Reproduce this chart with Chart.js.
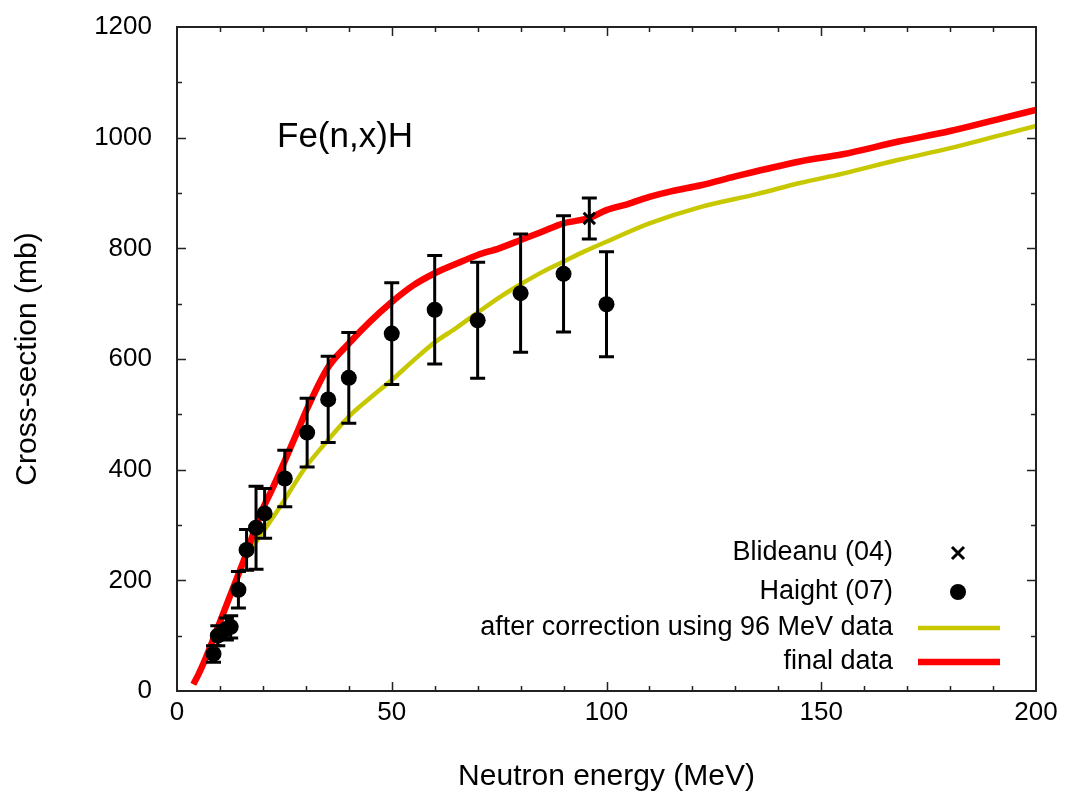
<!DOCTYPE html>
<html>
<head>
<meta charset="utf-8">
<title>Fe(n,x)H</title>
<script src="https://cdn.jsdelivr.net/npm/chart.js@4.4.1/dist/chart.umd.min.js"></script>
<style>
  html, body { margin:0; padding:0; background:#fff; }
  #wrap { width:1067px; height:799px; position:relative; }
</style>
</head>
<body>
<div id="wrap"><canvas id="xsChart" width="1067" height="799"></canvas></div>
<script>
// final evaluation (red)
const finalE  = [3.8, 5, 6.5, 8, 10, 12, 14, 16, 18, 20, 22, 25, 28, 30, 35, 40, 45, 50, 55, 60, 65, 70, 75, 80, 85, 90, 96, 100, 105, 110, 115, 122, 130, 145, 155, 168, 180, 192, 200];
const finalXS = [12, 30, 56, 85, 125, 165, 205, 245, 290, 330, 362, 414, 468, 505, 583, 628, 668, 703, 733, 755, 772, 788, 800, 815, 830, 845, 855, 869, 880, 893, 903, 914, 930, 957, 970, 993, 1012, 1035, 1050];

// after correction using 96 MeV data (yellow)
const corrE  = [3.8, 5, 6.5, 8, 10, 12, 14, 16, 18, 20, 22, 25, 28, 30, 35, 40, 45, 50, 55, 60, 65, 70, 75, 80, 85, 90, 95, 100, 110, 122, 135, 145, 155, 168, 180, 192, 200];
const corrXS = [12, 30, 56, 85, 125, 165, 205, 240, 265, 288, 310, 345, 382, 405, 452, 496, 530, 562, 597, 630, 656, 684, 711, 735, 757, 776, 795, 812, 845, 875, 898, 918, 935, 960, 981, 1005, 1021];

// Haight (07)
const haightE   = [8.5, 9.5, 11.5, 12.5, 14.3, 16.2, 18.4, 20.4, 25.1, 30.3, 35.2, 40, 50, 60, 70, 80, 90, 100];
const haightXS  = [67, 100, 112, 116, 183, 255, 295, 321, 384, 467, 527, 566, 646, 689, 670, 719, 754, 699];
const haightErr = [15, 18, 20, 20, 33, 37, 75, 45, 51, 62, 78, 82, 92, 98, 105, 107, 105, 95];

// Blideanu (04)
const blidE   = [96];
const blidXS  = [854];
const blidErr = [37];

const xTickVals = [0, 50, 100, 150, 200];
const yTickVals = [0, 200, 400, 600, 800, 1000, 1200];

const FONT = "'Liberation Sans', Arial, Helvetica, sans-serif";

const toPts = (xs, ys) => xs.map((x, i) => ({x: x, y: ys[i]}));

// vertical error bars with caps
const errorBars = {
  id: 'errorBars',
  afterDatasetsDraw(chart) {
    const {ctx, scales: {x, y}} = chart;
    ctx.save();
    ctx.strokeStyle = '#000';
    ctx.lineWidth = 3;
    chart.data.datasets.forEach(ds => {
      if (!ds.errors) return;
      ds.data.forEach((p, i) => {
        const px = x.getPixelForValue(p.x);
        const y1 = y.getPixelForValue(p.y - ds.errors[i]);
        const y2 = y.getPixelForValue(p.y + ds.errors[i]);
        ctx.beginPath();
        ctx.moveTo(px, y1); ctx.lineTo(px, y2);
        ctx.moveTo(px - 7.5, y1); ctx.lineTo(px + 7.5, y1);
        ctx.moveTo(px - 7.5, y2); ctx.lineTo(px + 7.5, y2);
        ctx.stroke();
      });
    });
    ctx.restore();
  }
};

// box frame with inward major/minor ticks on all sides
const frame = {
  id: 'frame',
  afterDraw(chart) {
    const {ctx, chartArea: a, scales: {x, y}} = chart;
    ctx.save();
    ctx.strokeStyle = '#222';
    ctx.lineWidth = 2;
    ctx.strokeRect(a.left, a.top, a.right - a.left, a.bottom - a.top);
    ctx.lineWidth = 1.5;
    ctx.beginPath();
    for (let v = 10; v < 200; v += 10) {
      const px = Math.round(x.getPixelForValue(v)) + 0.5;
      const len = v % 50 === 0 ? 9 : 5;
      ctx.moveTo(px, a.bottom); ctx.lineTo(px, a.bottom - len);
      ctx.moveTo(px, a.top); ctx.lineTo(px, a.top + len);
    }
    for (let v = 100; v < 1200; v += 100) {
      const py = Math.round(y.getPixelForValue(v)) + 0.5;
      const len = v % 200 === 0 ? 9 : 5;
      ctx.moveTo(a.left, py); ctx.lineTo(a.left + len, py);
      ctx.moveTo(a.right, py); ctx.lineTo(a.right - len, py);
    }
    ctx.stroke();

    // reaction label
    ctx.fillStyle = '#000';
    ctx.font = '35px ' + FONT;
    ctx.textBaseline = 'middle';
    ctx.textAlign = 'left';
    ctx.fillText('Fe(n,x)H', a.left + 100, y.getPixelForValue(1000));
    ctx.restore();
  }
};

// key in the lower right corner: text right-aligned, sample to its right
const key = {
  id: 'key',
  afterDraw(chart) {
    const {ctx, chartArea: a} = chart;
    const tx = a.right - 143, sx0 = a.right - 118, sx1 = a.right - 36, mx = a.right - 78;
    const rows = [
      {label: 'Blideanu (04)', y: 553, kind: 'cross'},
      {label: 'Haight (07)', y: 592, kind: 'dot'},
      {label: 'after correction using 96 MeV data', y: 628, kind: 'line', color: '#c8c800', w: 4.5},
      {label: 'final data', y: 662, kind: 'line', color: '#ff0000', w: 6.5}
    ];
    ctx.save();
    ctx.font = '27px ' + FONT;
    ctx.fillStyle = '#000';
    ctx.textAlign = 'right';
    ctx.textBaseline = 'middle';
    rows.forEach(r => {
      ctx.fillText(r.label, tx, r.y);
      if (r.kind === 'line') {
        ctx.strokeStyle = r.color; ctx.lineWidth = r.w;
        ctx.beginPath(); ctx.moveTo(sx0, r.y); ctx.lineTo(sx1, r.y); ctx.stroke();
      } else if (r.kind === 'cross') {
        ctx.strokeStyle = '#000'; ctx.lineWidth = 3;
        ctx.beginPath();
        ctx.moveTo(mx - 6, r.y - 6); ctx.lineTo(mx + 6, r.y + 6);
        ctx.moveTo(mx + 6, r.y - 6); ctx.lineTo(mx - 6, r.y + 6);
        ctx.stroke();
      } else {
        ctx.beginPath(); ctx.arc(mx, r.y, 8, 0, Math.PI * 2); ctx.fill();
      }
    });
    ctx.restore();
  }
};

new Chart(document.getElementById('xsChart'), {
  type: 'scatter',
  data: {
    datasets: [
      {
        label: 'Blideanu (04)', data: toPts(blidE, blidXS), errors: blidErr,
        pointStyle: 'crossRot', pointRadius: 8, borderColor: '#000', borderWidth: 3, showLine: false
      },
      {
        label: 'Haight (07)', data: toPts(haightE, haightXS), errors: haightErr,
        pointStyle: 'circle', pointRadius: 8, backgroundColor: '#000', borderColor: '#000', borderWidth: 0, showLine: false
      },
      {
        label: 'final data', data: toPts(finalE, finalXS),
        showLine: true, borderColor: '#ff0000', borderWidth: 6.5, pointRadius: 0,
        cubicInterpolationMode: 'monotone', fill: false
      },
      {
        label: 'after correction using 96 MeV data', data: toPts(corrE, corrXS),
        showLine: true, borderColor: '#c8c800', borderWidth: 4.5, pointRadius: 0,
        cubicInterpolationMode: 'monotone', fill: false
      }
    ]
  },
  options: {
    responsive: false,
    animation: false,
    layout: {padding: {top: 27, right: 31, left: 0, bottom: 0}},
    plugins: {legend: {display: false}, tooltip: {enabled: false}},
    scales: {
      x: {
        type: 'linear', min: 0, max: 200,
        afterBuildTicks: s => { s.ticks = xTickVals.map(v => ({value: v})); },
        afterFit: s => { s.height = 108; },
        grid: {display: false, drawTicks: false},
        border: {display: false},
        ticks: {color: '#000', font: {family: FONT, size: 26}, padding: 6, maxRotation: 0, callback: v => String(v)},
        title: {display: true, text: 'Neutron energy (MeV)', color: '#000', font: {family: FONT, size: 30}, padding: {top: 0, bottom: 4}}
      },
      y: {
        type: 'linear', min: 0, max: 1200,
        afterBuildTicks: s => { s.ticks = yTickVals.map(v => ({value: v})); },
        // the label padding would otherwise push the plot top down
        afterFit: s => { s.width = 177; s.paddingTop = 14; s.paddingBottom = 14; },
        grid: {display: false, drawTicks: false},
        border: {display: false},
        ticks: {color: '#000', font: {family: FONT, size: 26}, padding: 25, callback: v => String(v)},
        title: {display: true, text: 'Cross-section (mb)', color: '#000', font: {family: FONT, size: 30}, padding: {top: 10, bottom: 0}}
      }
    }
  },
  plugins: [errorBars, frame, key]
});
</script>
</body>
</html>
